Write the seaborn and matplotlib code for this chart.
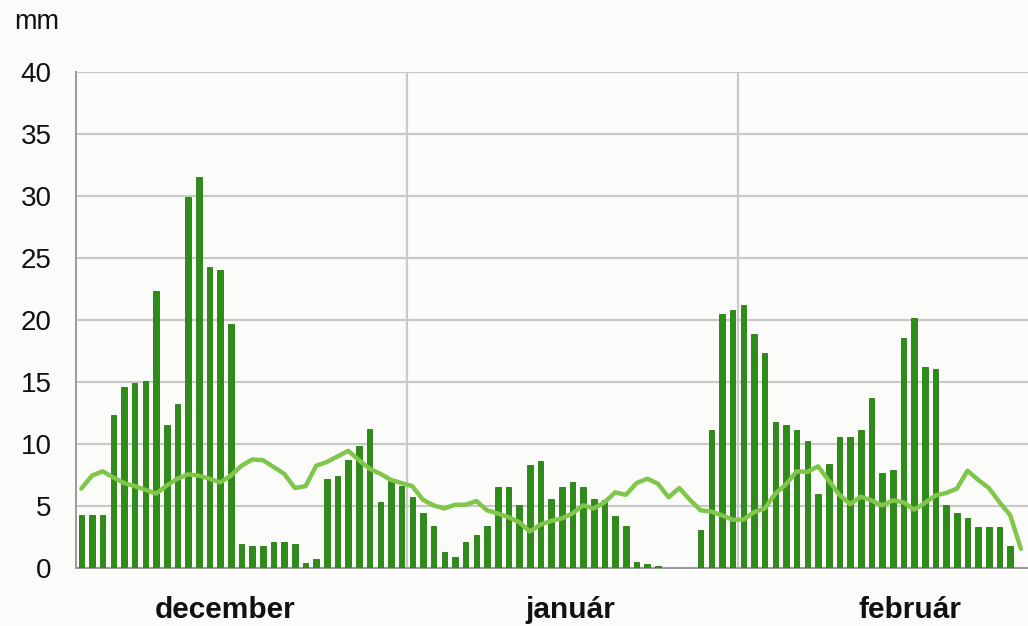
import numpy as np
import pandas as pd
import matplotlib
matplotlib.use("Agg")
import matplotlib.pyplot as plt
import seaborn as sns

# ---- data ----
months = ["december", "január", "február"]
month_days = [31, 31, 27]

precip_dec = [4.3, 4.3, 4.3, 12.3, 14.6, 14.9, 15.1, 22.3, 11.5, 13.2, 29.9, 31.5, 24.3, 24.0, 19.7,
              1.95, 1.8, 1.8, 2.1, 2.1, 1.95, 0.4, 0.7, 7.2, 7.4, 8.7, 9.85, 11.2, 5.3, 7.05, 6.6]
precip_jan = [5.7, 4.45, 3.4, 1.3, 0.9, 2.1, 2.7, 3.4, 6.5, 6.5, 5.1, 8.3, 8.6, 5.6, 6.5, 6.95,
              6.5, 5.6, 5.45, 4.2, 3.4, 0.45, 0.3, 0.15, 0.0, 0.0, 0.0, 3.1, 11.1, 20.5, 20.8]
precip_feb = [21.2, 18.85, 17.35, 11.8, 11.5, 11.1, 10.25, 6.0, 8.35, 10.55, 10.55, 11.1, 13.7,
              7.65, 7.9, 18.55, 20.2, 16.25, 16.05, 5.1, 4.4, 4.0, 3.3, 3.3, 3.3, 1.8, 0.0]

avg_dec = [6.4, 7.45, 7.8, 7.3, 6.85, 6.6, 6.3, 6.0, 6.65, 7.2, 7.55, 7.45, 7.2, 6.9, 7.45, 8.25,
           8.75, 8.7, 8.15, 7.6, 6.45, 6.6, 8.25, 8.55, 9.0, 9.45, 8.7, 8.0, 7.6, 7.1, 6.85]
avg_jan = [6.6, 5.5, 5.05, 4.8, 5.1, 5.1, 5.4, 4.65, 4.4, 4.1, 3.7, 2.95, 3.5, 3.8, 4.0, 4.4,
           5.05, 4.8, 5.3, 6.1, 5.9, 6.85, 7.2, 6.8, 5.7, 6.45, 5.5, 4.65, 4.55, 4.25, 3.9]
avg_feb = [3.9, 4.5, 4.8, 6.0, 6.75, 7.8, 7.75, 8.2, 7.05, 5.9, 5.15, 5.75, 5.45, 5.05, 5.45,
           5.3, 4.7, 5.25, 5.85, 6.05, 6.4, 7.85, 7.1, 6.45, 5.3, 4.25, 1.55]

y_ticks = [0, 5, 10, 15, 20, 25, 30, 35, 40]
y_unit = "mm"

# ---- build table ----
precip = precip_dec + precip_jan + precip_feb
avg = avg_dec + avg_jan + avg_feb
n = len(precip)
df = pd.DataFrame({"day": np.arange(n), "precip": precip, "avg": avg})

sns.set_theme(style="white")
plt.rcParams["font.family"] = ["Liberation Sans", "DejaVu Sans"]

bg = "#fbfcfa"
fig = plt.figure(figsize=(10.28, 6.26), dpi=100, facecolor=bg)
ax = fig.add_axes([76 / 1028, 1 - 568 / 626, (1028 - 76) / 1028, (568 - 72) / 626])
ax.set_facecolor(bg)

sns.barplot(data=df, x="day", y="precip", color="#2e8c19", width=0.52,
            edgecolor="#257a12", linewidth=0.6, saturation=1, ax=ax, zorder=3)
sns.lineplot(x=df["day"].to_numpy(), y=df["avg"].to_numpy(), color="#80c64a", linewidth=3.2,
             ax=ax, zorder=4)

ax.set_ylim(0, 40)
ax.set_xlim(-0.5, (1028 - 76) / 10.677 - 0.5)
ax.set_yticks(y_ticks)
ax.set_yticklabels([str(v) for v in y_ticks], fontsize=20, color="#111111")
ax.yaxis.grid(True, color="#c9c9c9", linewidth=1.6, zorder=0)
ax.set_axisbelow(True)

# month boundaries
bounds = [-0.5]
for d in month_days[:-1]:
    bounds.append(bounds[-1] + d)
for b in bounds[1:]:
    ax.axvline(b, color="#c9c9c9", linewidth=1.6, zorder=1)
ax.set_xticks(bounds)
ax.set_xticklabels([""] * len(bounds))
ax.tick_params(axis="x", which="major", length=8, width=1.2, color="#9a9a9a", direction="out")
ax.tick_params(axis="y", which="major", length=7.5, width=1.2, color="#9a9a9a", direction="out", pad=10)

label_pos = [13.45, 45.8, 77.6]
ax.set_xticks(label_pos, minor=True)
ax.set_xticklabels(months, minor=True, fontsize=21.5, fontweight="bold", color="#111111")
ax.tick_params(axis="x", which="minor", length=0, pad=20)

ax.set_xlabel("")
ax.set_ylabel("")
for s in ["top", "right"]:
    ax.spines[s].set_visible(False)
for s in ["left", "bottom"]:
    ax.spines[s].set_color("#9a9a9a")
    ax.spines[s].set_linewidth(1.4)

fig.text(14 / 1028, 1 - 22 / 626, y_unit, fontsize=19.5, color="#111111", va="center", ha="left")

fig.savefig("out.png", dpi=100, facecolor=bg)
